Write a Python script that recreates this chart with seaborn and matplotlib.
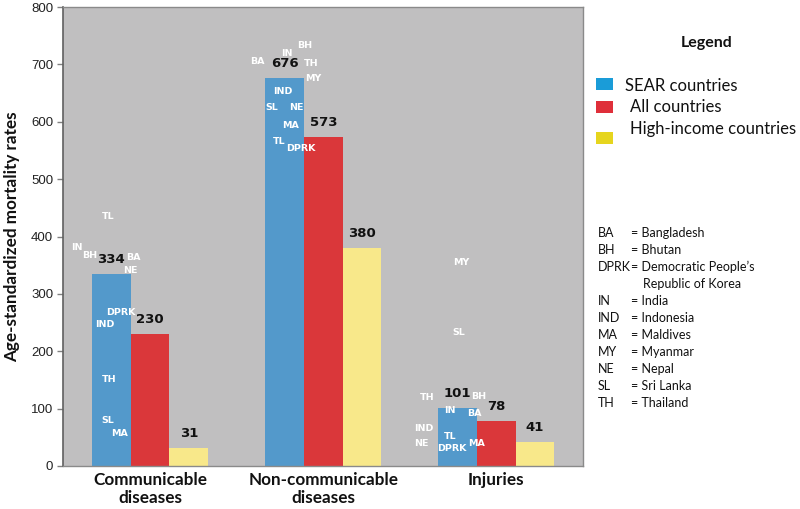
import matplotlib
matplotlib.use("Agg")
import matplotlib.pyplot as plt
import seaborn as sns
import pandas as pd
from matplotlib.patches import Rectangle

# ---------------- data ----------------
categories = ["Communicable\ndiseases", "Non-communicable\ndiseases", "Injuries"]
groups = ["SEAR countries", "All countries", "High-income countries"]
sear_values = [334, 676, 101]
all_values = [230, 573, 78]
high_income_values = [31, 380, 41]

# individual SEAR country rates (label, value) per category
comm_countries = ["TL", "IN", "BH", "BA", "NE", "DPRK", "IND", "TH", "SL", "MA"]
comm_rates = [434, 381, 367, 364, 340, 268, 246, 151, 79, 56]
ncd_countries = ["BH", "IN", "BA", "TH", "MY", "IND", "SL", "NE", "MA", "TL", "DPRK"]
ncd_rates = [733, 719, 705, 702, 676, 652, 625, 625, 594, 566, 554]
inj_countries = ["MY", "SL", "BH", "TH", "IN", "BA", "IND", "TL", "NE", "MA", "DPRK"]
inj_rates = [354, 232, 122, 120, 96, 92, 66, 52, 40, 40, 30]

# horizontal placement of country labels (offset from category centre)
comm_offsets = [-0.243, -0.422, -0.35, -0.098, -0.116, -0.168, -0.26, -0.237, -0.243, -0.179]
ncd_offsets = [-0.11, -0.208, -0.382, -0.069, -0.058, -0.231, -0.30, -0.156, -0.191, -0.254, -0.127]
inj_offsets = [-0.202, -0.22, -0.104, -0.399, -0.266, -0.127, -0.422, -0.266, -0.434, -0.116, -0.26]

abbrev_codes = ["BA", "BH", "DPRK", "", "IN", "IND", "MA", "MY", "NE", "SL", "TH"]
abbrev_names = ["Bangladesh", "Bhutan", "Democratic People\u2019s", "Republic of Korea",
                "India", "Indonesia", "Maldives", "Myanmar", "Nepal", "Sri Lanka", "Thailand"]

bar_colors = ["#5399CB", "#DA373A", "#F8E88A"]
legend_colors = ["#1A9CD8", "#DF2F3A", "#E6D51E"]

df = pd.DataFrame({
    "category": categories * 3,
    "group": [g for g in groups for _ in categories],
    "value": sear_values + all_values + high_income_values,
})

# ---------------- plot ----------------
sns.set_theme(style="white")
plt.rcParams["font.family"] = ["DejaVu Sans"]

fig = plt.figure(figsize=(8.0, 5.09), dpi=100)
ax = fig.add_axes([63 / 800, 1 - 466 / 509, 520 / 800, 459 / 509])
ax.set_facecolor("#C0BFC0")

sns.barplot(data=df, x="category", y="value", hue="group", palette=bar_colors,
            width=0.67, gap=0, saturation=1, ax=ax, legend=False, errorbar=None,
            linewidth=0, edgecolor="none")

ax.set_xlim(-0.503, 2.5)
ax.set_ylim(0, 800)
ax.set_yticks(range(0, 801, 100))
ax.tick_params(axis="y", which="major", direction="out", length=4, width=1,
               color="#808080", labelsize=9.5, labelcolor="#222222", left=True, pad=3)
ax.tick_params(axis="x", length=0, pad=4)
for lab in ax.get_yticklabels():
    lab.set_fontfamily("Liberation Sans")
for lab in ax.get_xticklabels():
    lab.set_fontfamily("Lato")
    lab.set_fontweight("bold")
    lab.set_fontsize(12.3)
    lab.set_color("#111111")
    lab.set_linespacing(1.2)
ax.set_xlabel("")
ax.set_ylabel("Age-standardized mortality rates", fontfamily="Lato", fontweight="bold",
              fontsize=12.3, color="#111111", labelpad=8)
for s in ax.spines.values():
    s.set_color("#8A8A8A")
    s.set_linewidth(1.0)
ax.spines["left"].set_color("#606060")
ax.spines["left"].set_linewidth(1.2)

# value labels
for cont in ax.containers:
    ax.bar_label(cont, fmt="%d", padding=6, fontsize=9.5, fontweight="bold", color="#111111")

# country labels
for ci, (names, rates, offs) in enumerate([(comm_countries, comm_rates, comm_offsets),
                                           (ncd_countries, ncd_rates, ncd_offsets),
                                           (inj_countries, inj_rates, inj_offsets)]):
    for n, r, o in zip(names, rates, offs):
        ax.text(ci + o, r, n, color="white", fontsize=6.8, fontweight="bold",
                ha="center", va="center")

# legend
fig.text(707 / 800, 1 - 43 / 509, "Legend", fontfamily="Lato", fontweight="bold",
         fontsize=11.5, ha="center", va="center", color="#111111")
patch_y = [84, 107, 138]
text_y = [86, 107, 129]
text_x = [625, 630, 630]
for col, g, py, ty, tx in zip(legend_colors, groups, patch_y, text_y, text_x):
    fig.add_artist(Rectangle((596 / 800, 1 - (py + 6) / 509), 17 / 800, 12 / 509,
                             transform=fig.transFigure, facecolor=col, edgecolor="none"))
    fig.text(tx / 800, 1 - ty / 509, g, fontfamily="Lato", fontsize=12,
             ha="left", va="center", color="#111111")

# abbreviations
y0 = 233
for i, (c, n) in enumerate(zip(abbrev_codes, abbrev_names)):
    yy = 1 - (y0 + 17 * i) / 509
    if c:
        fig.text(598 / 800, yy, c, fontfamily="Lato", fontsize=9, ha="left", va="center",
                 color="#111111")
        fig.text(631 / 800, yy, "= " + n, fontfamily="Lato", fontsize=9, ha="left",
                 va="center", color="#111111")
    else:
        fig.text(643 / 800, yy, n, fontfamily="Lato", fontsize=9, ha="left", va="center",
                 color="#111111")

fig.savefig("out.png", dpi=100, facecolor="white")
